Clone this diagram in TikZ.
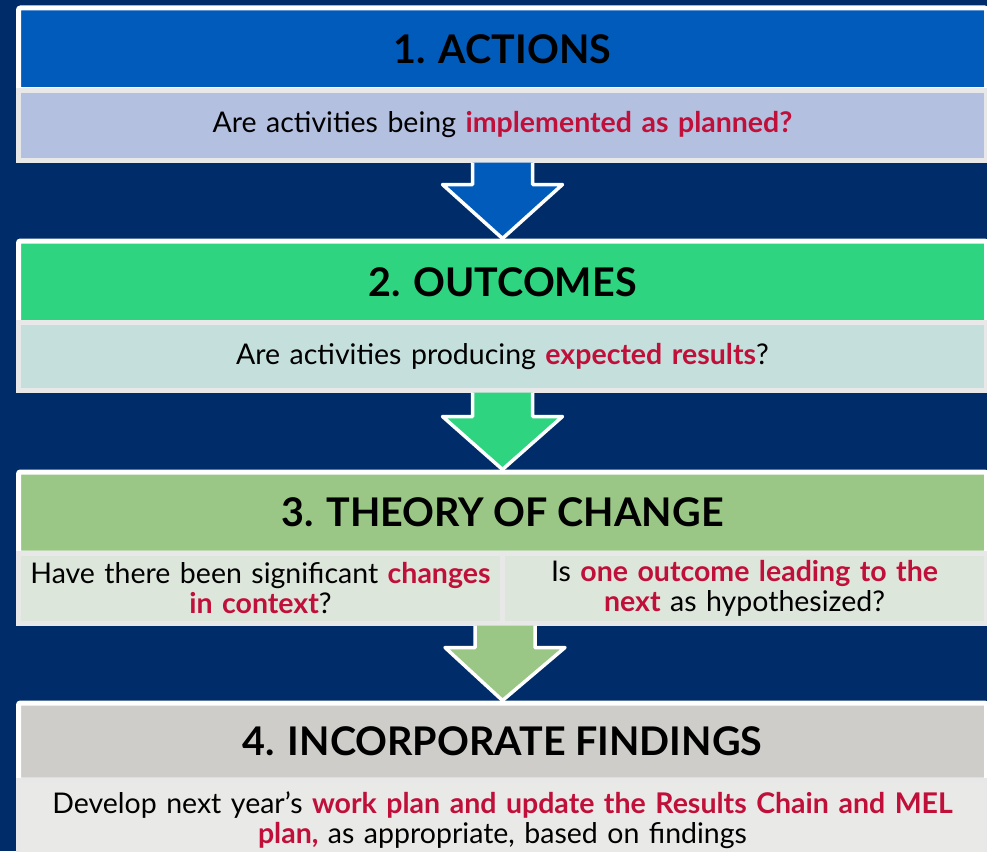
\documentclass[tikz,border=0pt]{standalone}
\usepackage{fontspec}
\setmainfont{Lato}
\usetikzlibrary{positioning, calc}

\definecolor{navybg}{RGB}{0,45,105}
\definecolor{actblue}{RGB}{0,91,187}
\definecolor{actband}{RGB}{180,192,224}
\definecolor{outgreen}{RGB}{46,212,128}
\definecolor{outband}{RGB}{197,223,221}
\definecolor{tocgreen}{RGB}{155,199,134}
\definecolor{tocband}{RGB}{221,230,219}
\definecolor{incgray}{RGB}{207,205,201}
\definecolor{incband}{RGB}{233,233,231}
\definecolor{rimgray}{RGB}{232,232,232}
\definecolor{keyred}{RGB}{192,16,58}

\newcommand{\keyword}[1]{\textcolor{keyred}{\bfseries #1}}

\tikzset{
  stagehead/.style={draw=white, line width=5pt, rounded corners=2pt, anchor=north west,
    minimum width=968, inner sep=0pt, font=\fontsize{39.5}{44}\selectfont\bfseries},
  stageband/.style={draw=rimgray, line width=5pt, anchor=north west, minimum width=968,
    inner sep=0pt, align=center, text width=950, font=\fontsize{28.5}{30}\selectfont},
  halfband/.style={stageband, minimum width=484, text width=474},
  blockarrow/.style={draw=white, line width=3.5pt, line join=round}
}

\begin{document}
\begin{tikzpicture}[x=1pt, y=-1pt]
    \useasboundingbox (0,0) rectangle (987,851);
    \fill[navybg] (0,0) rectangle (987,851);

    % Stage 1: actions
    \node[stagehead, fill=actblue, minimum height=81.5] (hdr1) at (16,5.5) {1. ACTIONS};
    \node[stageband, fill=actband, minimum height=70] (q1) at (16,87.5)
        {Are activities being \keyword{implemented as planned?}};

    % Stage 2: outcomes
    \node[stagehead, fill=outgreen, minimum height=81.5] (hdr2) at (16,238.5) {2. OUTCOMES};
    \node[stageband, fill=outband, minimum height=67.5] (q2) at (16,320)
        {Are activities producing \keyword{expected results}?};

    % Stage 3: theory of change
    \node[stagehead, fill=tocgreen, minimum height=81] (hdr3) at (16,469.5) {3. THEORY OF CHANGE};
    \node[halfband, fill=tocband, minimum height=70] (q3a) at (16,550.5)
        {Have there been significant \keyword{changes}\\ \keyword{in context}?};
    \node[halfband, fill=tocband, minimum height=70] (q3b) at (500,550.5)
        {Is \keyword{one outcome leading to the}\\ \keyword{next} as hypothesized?};

    % Stage 4: incorporate findings
    \node[stagehead, fill=incgray, minimum height=77] (hdr4) at (16,700.5) {4. INCORPORATE FINDINGS};
    \node[stageband, fill=incband, minimum height=80] (q4) at (16,777.5)
        {Develop next year’s \keyword{work plan and update the Results Chain and MEL}\\
         \keyword{plan,} as appropriate, based on findings};

    % Block arrows between stages
    \filldraw[blockarrow, fill=actblue]
        ($(q1.south)+(-30,0)$) -- ++(0,22) -- ++(-30,0) -- (hdr2.north)
        -- ($(q1.south)+(60,22)$) -- ++(-30,0) -- ($(q1.south)+(30,0)$);
    \filldraw[blockarrow, fill=outgreen]
        ($(q2.south)+(-30,0)$) -- ++(0,24) -- ++(-30,0) -- (hdr3.north)
        -- ($(q2.south)+(60,24)$) -- ++(-30,0) -- ($(q2.south)+(30,0)$);
    \filldraw[blockarrow, fill=tocgreen]
        ($(q3a.south east)+(-30,0)$) -- ++(0,22) -- ++(-30,0) -- (hdr4.north)
        -- ($(q3a.south east)+(60,22)$) -- ++(-30,0) -- ($(q3a.south east)+(30,0)$);
\end{tikzpicture}
\end{document}
